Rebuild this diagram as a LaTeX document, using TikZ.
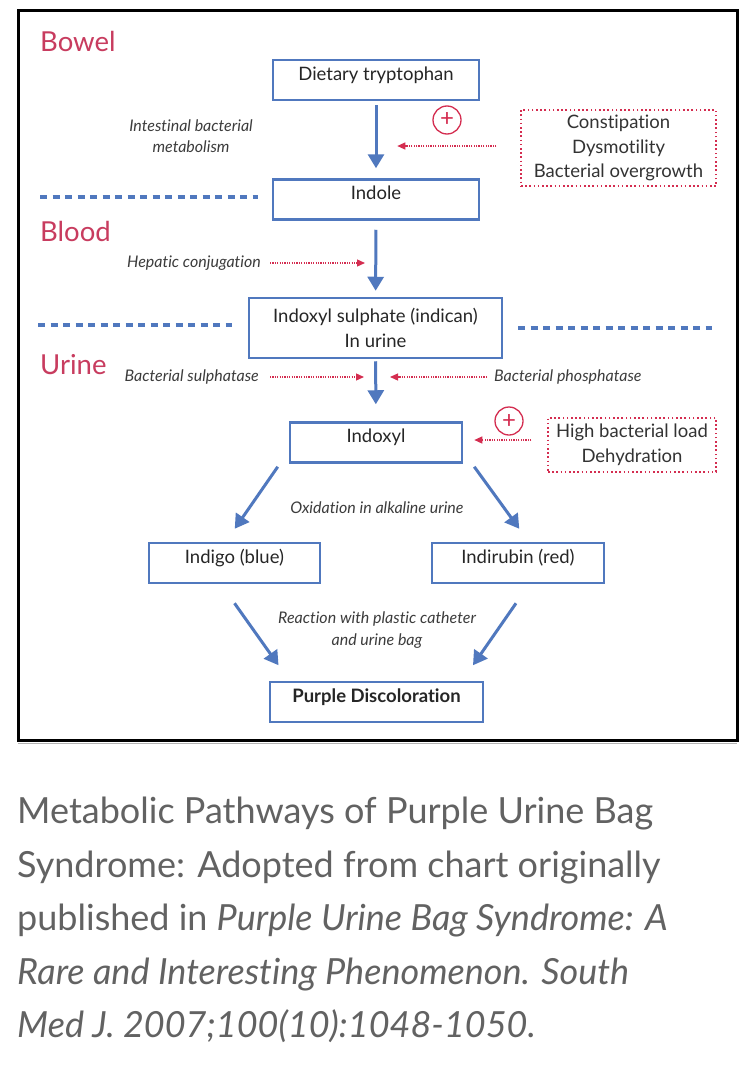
\documentclass[tikz,border=0pt]{standalone}
\usepackage{fontspec}
\setmainfont{Lato}[Ligatures=NoCommon]
\usepackage{tikz}
\usetikzlibrary{arrows.meta,positioning}
\definecolor{boxblue}{RGB}{80,120,190}
\definecolor{zonered}{RGB}{200,60,95}
\definecolor{causered}{RGB}{212,45,80}
\definecolor{captiongray}{RGB}{98,98,98}
\definecolor{labelgray}{RGB}{60,60,60}

\begin{document}
\begin{tikzpicture}[x=1pt,y=-1pt,
    stage/.style={rectangle,draw=boxblue,line width=2.5pt,inner xsep=0pt,inner ysep=5pt,
        text height=15pt,text depth=15pt,text=black!85,font=\fontsize{18.5}{25}\selectfont},
    factors/.style={rectangle,draw=causered,line width=1.4pt,dash pattern=on 1.6pt off 2.6pt,
        align=center,inner sep=0pt,text=black!80,font=\fontsize{18.5}{24.5}\selectfont},
    process/.style={align=center,inner sep=0pt,text=labelgray,font=\fontsize{16}{21.5}\selectfont\itshape},
    zone/.style={anchor=base west,inner sep=0pt,text=zonered,font=\fontsize{27.5}{30}\selectfont},
    booster/.style={circle,draw=causered,line width=1.3pt,minimum size=28pt,inner sep=0pt,
        text=causered,font=\fontsize{24}{24}\selectfont},
    flow/.style={draw=boxblue,line width=3pt,-{Triangle[width=16pt,length=14pt]}},
    hint/.style={draw=causered,line width=1.3pt,dash pattern=on 1.2pt off 1.2pt,-{Triangle[width=7pt,length=8pt]}},
    boundary/.style={draw=boxblue,line width=3.5pt,dash pattern=on 7pt off 5.5pt}]
    \fill [white] (0,0) rectangle (750,1068);
    \useasboundingbox (0,0) rectangle (750,1068);
    \path [draw,line width=3pt] (18,10) rectangle (737,740);
    \path [draw,black!30,line width=1pt] (18,743) -- (737,743);

    % compartments
    \node (bowel) at (40,51) [zone] {Bowel};
    \node (blood) at (40,241) [zone] {Blood};
    \node (urine) at (40,374) [zone] {Urine};
    \path [boundary] (40,197) -- (258,197);
    \path [boundary] (38,325) -- (232,325);
    \path [boundary] (518,328) -- (712,328);

    % pathway
    \node (tryp) at (376,80) [stage,minimum width=206pt] {Dietary tryptophan};
    \node (indole) at (376,199.5) [stage,minimum width=206pt] {Indole};
    \node (indican) at (375.5,328) [stage,minimum width=253pt,minimum height=60pt,align=center,
        text height={},text depth={},inner ysep=0pt] {Indoxyl sulphate (indican)\\In urine};
    \node (indoxyl) at (376,442.5) [stage,minimum width=172pt] {Indoxyl};
    \node (indigo) at (234.5,563) [stage,minimum width=171pt] {Indigo (blue)};
    \node (indirubin) at (518,563) [stage,minimum width=172pt] {Indirubin (red)};
    \node (purple) at (376.5,702) [stage,minimum width=213pt,font=\fontsize{18.5}{25}\selectfont\bfseries] {Purple Discoloration};

    \path [flow,shorten <=4pt,shorten >=10pt] (tryp) -- (indole);
    \path [flow,shorten <=9pt,shorten >=6pt] (indole) -- (indican);
    \path [flow,shorten <=2pt,shorten >=17pt] (indican) -- (indoxyl);
    \path [flow] ([shift={(-11,3)}]indoxyl.south west) -- ++(-43,62);
    \path [flow] ([shift={(11,3)}]indoxyl.south east) -- ++(45,62);
    \path [flow] ([shift={(0,19)}]indigo.south) -- ++(44,62);
    \path [flow] ([shift={(-2,19)}]indirubin.south) -- ++(-43,62);

    % process labels
    \node (microbes) at (191,136) [process] {Intestinal bacterial\\metabolism};
    \node (hepatic) at (261,263) [process,anchor=east] {Hepatic conjugation};
    \node (sulphatase) at (259,377) [process,anchor=east] {Bacterial sulphatase};
    \node (phosphatase) at (494,377) [process,anchor=west] {Bacterial phosphatase};
    \node (oxidation) at (377,508) [process] {Oxidation in alkaline urine};
    \node (catheter) at (377,630) [process] {Reaction with plastic catheter\\and urine bag};
    \path [draw,hint,shorten <=9pt] (hepatic.east) -- ++(104,0);
    \path [draw,hint,shorten <=11pt] (sulphatase.east) -- ++(105,0);
    \path [draw,hint,shorten <=7pt] (phosphatase.west) -- ++(-104,0);

    % promoting factors
    \node (gut) at (618.5,148) [factors,minimum width=195pt,minimum height=76pt] {Constipation\\Dysmotility\\Bacterial overgrowth};
    \node (load) at (632,445) [factors,minimum width=168pt,minimum height=54pt] {High bacterial load\\Dehydration};
    \node (plusgut) at (447,120) [booster] {+};
    \node (plusload) at (509,421) [booster] {+};
    \path [draw,hint,shorten <=24pt] ([yshift=2pt]gut.west) -- ++(-123,0);
    \path [draw,hint,shorten <=16pt] ([yshift=5pt]load.west) -- ++(-73,0);

    % caption
    \node (caption) at (17,797) [anchor=north west,align=left,inner sep=0pt,text=captiongray,
        font=\fontsize{36}{53.5}\selectfont] {Metabolic Pathways of Purple Urine Bag\\
        Syndrome: Adopted from chart originally\\
        published in \textit{Purple Urine Bag Syndrome: A}\\
        \textit{Rare and Interesting Phenomenon. South}\\
        \textit{Med J. 2007;100(10):1048-1050.}};
\end{tikzpicture}
\end{document}
